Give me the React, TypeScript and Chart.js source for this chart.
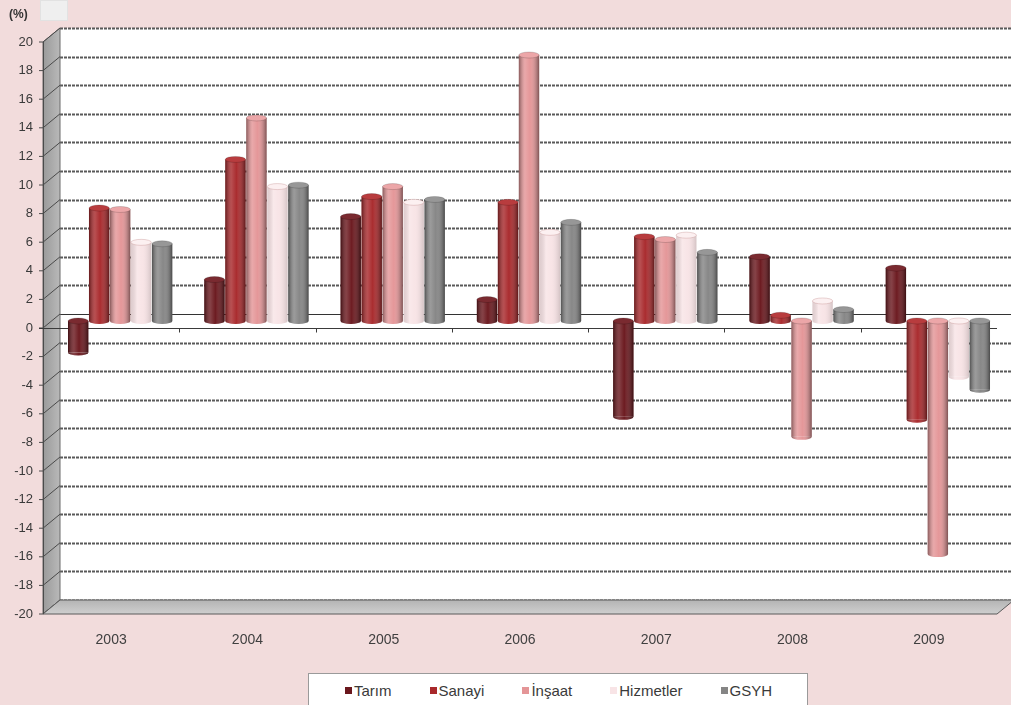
import React, { useEffect, useRef } from 'react';
import { Chart, registerables } from 'chart.js';

Chart.register(...registerables);

const categories = ['2003', '2004', '2005', '2006', '2007', '2008', '2009'];
const tarim = [-2.2, 2.9, 7.3, 1.5, -6.7, 4.5, 3.7];
const sanayi = [7.9, 11.3, 8.7, 8.3, 5.9, 0.4, -6.9];
const insaat = [7.8, 14.2, 9.4, 18.6, 5.7, -8.1, -16.3];
const hizmetler = [5.5, 9.4, 8.3, 6.2, 6.0, 1.4, -3.9];
const gsyh = [5.4, 9.5, 8.5, 6.9, 4.8, 0.8, -4.8];

const seriesNames = ['Tarım', 'Sanayi', 'İnşaat', 'Hizmetler', 'GSYH'];
const seriesValues = [tarim, sanayi, insaat, hizmetler, gsyh];
const seriesColors = ['#6a171d', '#a8282b', '#e49597', '#f8e4e6', '#858585'];
const capColors = ['#7a2a30', '#b83c3e', '#eca6a8', '#fcf0f1', '#979797'];

const yMin = -20;
const yMax = 20;
const yStep = 2;

const FONT = '"Liberation Sans", Arial, sans-serif';
const BG = '#f2dcdc';

// depth offsets for the pseudo-3D walls
const DX = 17;
const DY = -14;
const BDX = 9;
const BDY = -7;

const wallsPlugin = {
  id: 'walls3d',
  beforeDatasetsDraw(chart: any) {
    const { ctx, chartArea, scales } = chart;
    const ys = scales.y;
    const xs = scales.x;
    const L = chartArea.left;
    const R = chartArea.right;
    const T = chartArea.top;
    const B = chartArea.bottom;
    const W = chart.width;
    ctx.save();
    ctx.fillStyle = '#ffffff';
    ctx.fillRect(L + DX, T + DY, W - (L + DX), B - T);
    ys.ticks.forEach((t: any) => {
      const y = Math.round(ys.getPixelForValue(t.value) + DY) + 0.5;
      ctx.beginPath();
      if (t.value === 0) {
        ctx.setLineDash([]);
        ctx.strokeStyle = '#333333';
        ctx.lineWidth = 1;
      } else {
        ctx.setLineDash([3, 1]);
        ctx.strokeStyle = 'rgba(60,60,60,0.85)';
        ctx.lineWidth = 2;
      }
      ctx.moveTo(L + DX, y);
      ctx.lineTo(W, y);
      ctx.stroke();
    });
    ctx.setLineDash([]);
    const g = ctx.createLinearGradient(L, 0, L + DX, 0);
    g.addColorStop(0, '#9a9a9a');
    g.addColorStop(1, '#b9b9b9');
    ctx.fillStyle = g;
    ctx.beginPath();
    ctx.moveTo(L, T);
    ctx.lineTo(L + DX, T + DY);
    ctx.lineTo(L + DX, B + DY);
    ctx.lineTo(L, B);
    ctx.closePath();
    ctx.fill();
    ctx.strokeStyle = '#6a6a6a';
    ctx.lineWidth = 1;
    ctx.stroke();
    ys.ticks.forEach((t: any) => {
      const y = ys.getPixelForValue(t.value);
      ctx.beginPath();
      ctx.strokeStyle = '#4a4a4a';
      ctx.moveTo(L - 4, y);
      ctx.lineTo(L, y);
      ctx.lineTo(L + DX, y + DY);
      ctx.stroke();
    });
    const fg = ctx.createLinearGradient(0, B + DY, 0, B);
    fg.addColorStop(0, '#b4b4b4');
    fg.addColorStop(1, '#cfcfcf');
    ctx.fillStyle = fg;
    ctx.beginPath();
    ctx.moveTo(L, B);
    ctx.lineTo(R, B);
    ctx.lineTo(R + DX, B + DY);
    ctx.lineTo(L + DX, B + DY);
    ctx.closePath();
    ctx.fill();
    ctx.strokeStyle = '#5a5a5a';
    ctx.stroke();
    ctx.beginPath();
    ctx.strokeStyle = '#4a4a4a';
    ctx.moveTo(L + 0.5, T);
    ctx.lineTo(L + 0.5, B);
    ctx.stroke();
    const y0 = Math.round(ys.getPixelForValue(0)) + 0.5;
    ctx.beginPath();
    ctx.strokeStyle = '#3a3a3a';
    ctx.moveTo(L - 4, y0);
    ctx.lineTo(R, y0);
    for (let i = 1; i < categories.length; i++) {
      const xb = Math.round((xs.getPixelForValue(i - 1) + xs.getPixelForValue(i)) / 2) + 0.5;
      ctx.moveTo(xb, y0);
      ctx.lineTo(xb, y0 + 4);
    }
    ctx.stroke();
    ctx.restore();
    ctx.save();
    ctx.translate(BDX, BDY);
  },
  afterDatasetsDraw(chart: any) {
    const { ctx } = chart;
    chart.data.datasets.forEach((ds: any, di: number) => {
      const meta = chart.getDatasetMeta(di);
      meta.data.forEach((el: any) => {
        const { x, y, base, width } = el.getProps(['x', 'y', 'base', 'width'], true);
        const left = x - width / 2;
        const top = Math.min(y, base);
        const bottom = Math.max(y, base);
        const ry = Math.min(3, width / 6);
        const strong = di === 3 ? 0.1 : 0.4;
        const grad = ctx.createLinearGradient(left, 0, left + width, 0);
        grad.addColorStop(0, `rgba(0,0,0,${strong})`);
        grad.addColorStop(0.3, 'rgba(255,255,255,0.18)');
        grad.addColorStop(0.55, 'rgba(255,255,255,0.02)');
        grad.addColorStop(1, `rgba(0,0,0,${strong + 0.05})`);
        ctx.save();
        ctx.beginPath();
        ctx.ellipse(x, bottom, width / 2, ry, 0, 0, Math.PI);
        ctx.closePath();
        ctx.fillStyle = seriesColors[di];
        ctx.fill();
        ctx.fillStyle = grad;
        ctx.fill();
        ctx.fillStyle = grad;
        ctx.fillRect(left, top, width, bottom - top);
        ctx.beginPath();
        ctx.ellipse(x, top, width / 2, ry, 0, 0, Math.PI * 2);
        ctx.fillStyle = capColors[di];
        ctx.fill();
        ctx.strokeStyle = di === 3 ? 'rgba(200,150,150,0.5)' : 'rgba(0,0,0,0.2)';
        ctx.lineWidth = 0.8;
        ctx.stroke();
        ctx.restore();
      });
    });
    ctx.restore();
  },
};

export default function App() {
  const canvasRef = useRef<HTMLCanvasElement | null>(null);

  useEffect(() => {
    if (!canvasRef.current) return;
    const chart = new Chart(canvasRef.current, {
      type: 'bar',
      data: {
        labels: categories,
        datasets: seriesNames.map((name, i) => ({
          label: name,
          data: seriesValues[i],
          backgroundColor: seriesColors[i],
          borderWidth: 0,
          categoryPercentage: 0.77,
          barPercentage: 0.97,
          clip: false as any,
        })),
      },
      options: {
        responsive: false,
        maintainAspectRatio: false,
        animation: false,
        layout: { padding: { top: 42, right: 14, left: 0, bottom: 0 } },
        plugins: {
          legend: { display: false },
          tooltip: { enabled: false },
          title: { display: false },
        },
        scales: {
          x: {
            grid: { display: false, drawTicks: false },
            border: { display: false },
            ticks: {
              padding: 18,
              color: '#404040',
              font: { family: FONT, size: 14 },
              maxRotation: 0,
            },
            afterFit: (s: any) => {
              s.height = 91;
            },
          },
          y: {
            min: yMin,
            max: yMax,
            grid: { display: false, drawTicks: false },
            border: { display: false },
            ticks: {
              stepSize: yStep,
              padding: 10,
              color: '#3a3a3a',
              font: { family: FONT, size: 13 },
            },
            afterFit: (s: any) => {
              s.width = 43;
            },
          },
        },
      },
      plugins: [wallsPlugin],
    });
    return () => chart.destroy();
  }, []);

  return (
    <div
      style={{
        position: 'absolute',
        left: 0,
        top: 0,
        width: 1011,
        height: 705,
        background: BG,
        overflow: 'hidden',
        fontFamily: FONT,
      }}
    >
      <canvas
        ref={canvasRef}
        width={1011}
        height={705}
        style={{ position: 'absolute', left: 0, top: 0, width: 1011, height: 705 }}
      />
      <div
        style={{
          position: 'absolute',
          left: 9,
          top: 7,
          fontSize: 12,
          fontWeight: 'bold',
          color: '#333',
        }}
      >
        (%)
      </div>
      <div
        style={{
          position: 'absolute',
          left: 40,
          top: 0,
          width: 28,
          height: 21,
          background: '#efefef',
          border: '1px solid #e2e2e2',
          boxSizing: 'border-box',
        }}
      />
      <div
        style={{
          position: 'absolute',
          left: 308,
          top: 673,
          width: 500,
          height: 44,
          background: '#ffffff',
          border: '1px solid #9a9a9a',
          boxSizing: 'border-box',
          display: 'flex',
          alignItems: 'flex-start',
          paddingLeft: 36,
          paddingTop: 8,
          gap: 38,
          fontSize: 15,
          color: '#3a3a3a',
        }}
      >
        {seriesNames.map((name, i) => (
          <div key={name} style={{ display: 'flex', alignItems: 'center', whiteSpace: 'nowrap' }}>
            <span
              style={{
                display: 'inline-block',
                width: 7,
                height: 7,
                background: seriesColors[i],
                marginRight: 2,
              }}
            />
            <span>{name}</span>
          </div>
        ))}
      </div>
    </div>
  );
}
